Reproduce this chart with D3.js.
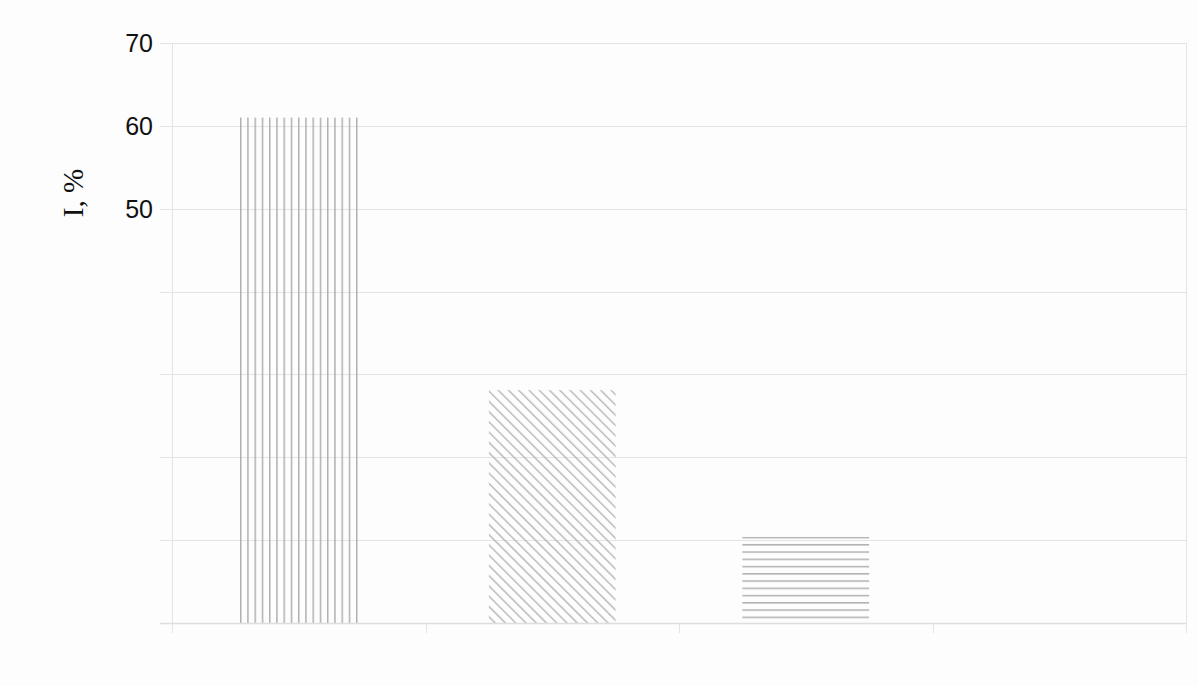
<!DOCTYPE html>
<html>
<head>
<meta charset="utf-8">
<script src="https://cdn.jsdelivr.net/npm/d3@7"></script>
<style>
  html, body { margin: 0; padding: 0; background: #fdfdfd; }
  svg { display: block; }
</style>
</head>
<body>
<script>
var categories = ['1', '2', '3', '4'];
var values = [61, 28.1, 10.4, null];
var fills = ['vert', 'diag', 'horiz', 'none'];
var yTicks = [0, 10, 20, 30, 40, 50, 60, 70];
var yTickLabels = ['', '', '', '', '', '50', '60', '70'];

var width = 1198;
var height = 686;
var margin = {top: 43, right: 12, bottom: 63, left: 172};

var svg = d3.select('body').append('svg')
  .attr('width', width)
  .attr('height', height);

var x = d3.scaleBand()
  .domain(categories)
  .range([margin.left, width - margin.right])
  .paddingInner(0.5)
  .paddingOuter(0.25);

var y = d3.scaleLinear()
  .domain([0, 70])
  .range([height - margin.bottom, margin.top]);

var step = x.step();
var lineGap = 7.25;
var hatchColor = '#ababab';
var gridColor = '#e4e4e4';

var defs = svg.append('defs');

// hatch fills, anchored on the bars so the lines sit inside the edges
function hatch(id, kind, i) {
  var p = defs.append('pattern')
    .attr('id', id)
    .attr('patternUnits', 'userSpaceOnUse');
  if (kind === 'vert') {
    p.attr('x', x(categories[i]) + 4.6).attr('y', 0)
      .attr('width', lineGap).attr('height', 10);
    p.append('line').attr('x1', 0.75).attr('x2', 0.75).attr('y1', 0).attr('y2', 10)
      .attr('stroke', hatchColor).attr('stroke-width', 1.4);
  } else if (kind === 'horiz') {
    p.attr('x', 0).attr('y', y(values[i]))
      .attr('width', 10).attr('height', lineGap);
    p.append('line').attr('x1', 0).attr('x2', 10).attr('y1', 0.75).attr('y2', 0.75)
      .attr('stroke', hatchColor).attr('stroke-width', 1.4);
  } else if (kind === 'diag') {
    p.attr('x', x(categories[i])).attr('y', y(values[i]))
      .attr('width', lineGap).attr('height', 10)
      .attr('patternTransform', 'rotate(-45)');
    p.append('line').attr('x1', 0.75).attr('x2', 0.75).attr('y1', 0).attr('y2', 10)
      .attr('stroke', hatchColor).attr('stroke-width', 1.2);
  }
}

fills.forEach(function(f, i) {
  if (f !== 'none') hatch('fill-' + i, f, i);
});

// grid lines
svg.append('g')
  .selectAll('line')
  .data(yTicks)
  .enter().append('line')
    .attr('x1', margin.left - 12)
    .attr('x2', width - margin.right)
    .attr('y1', function(d) { return Math.round(y(d)) + 0.5; })
    .attr('y2', function(d) { return Math.round(y(d)) + 0.5; })
    .attr('stroke', gridColor)
    .attr('stroke-width', 1);

// right border
svg.append('line')
  .attr('x1', width - margin.right + 0.5).attr('x2', width - margin.right + 0.5)
  .attr('y1', y(70)).attr('y2', y(0))
  .attr('stroke', gridColor);

// category ticks
var xTickPos = categories.map(function(c) { return x(c) - step * 0.25; });
xTickPos.push(width - margin.right);
svg.append('g')
  .selectAll('line')
  .data(xTickPos)
  .enter().append('line')
    .attr('x1', function(d) { return Math.round(d) + 0.5; })
    .attr('x2', function(d) { return Math.round(d) + 0.5; })
    .attr('y1', function(d, i) { return i === 0 ? y(70) : y(0); })
    .attr('y2', y(0) + 10)
    .attr('stroke', gridColor);

// bars
svg.append('g')
  .selectAll('rect')
  .data(values.map(function(v, i) { return {v: v, i: i}; }).filter(function(d) { return d.v != null; }))
  .enter().append('rect')
    .attr('x', function(d) { return x(categories[d.i]); })
    .attr('y', function(d) { return y(d.v); })
    .attr('width', x.bandwidth())
    .attr('height', function(d) { return y(0) - y(d.v); })
    .attr('fill', function(d) { return 'url(#fill-' + d.i + ')'; });

// axis line over the bars
svg.append('line')
  .attr('x1', margin.left - 12).attr('x2', width - margin.right)
  .attr('y1', Math.round(y(0)) + 0.5).attr('y2', Math.round(y(0)) + 0.5)
  .attr('stroke', '#dedede').attr('stroke-width', 1.5);

// y tick labels
svg.append('g')
  .selectAll('text')
  .data(yTicks)
  .enter().append('text')
    .attr('x', margin.left - 19)
    .attr('y', function(d) { return y(d); })
    .attr('dy', '0.36em')
    .attr('text-anchor', 'end')
    .attr('font-family', 'Liberation Sans, Arial, sans-serif')
    .attr('font-size', 25)
    .attr('fill', '#111')
    .text(function(d, i) { return yTickLabels[i]; });

// y axis title
svg.append('text')
  .attr('transform', 'translate(83,193) rotate(-90)')
  .attr('text-anchor', 'middle')
  .attr('font-family', 'Liberation Serif, Times New Roman, serif')
  .attr('font-size', 29)
  .attr('fill', '#111')
  .text('I, %');
</script>
</body>
</html>
